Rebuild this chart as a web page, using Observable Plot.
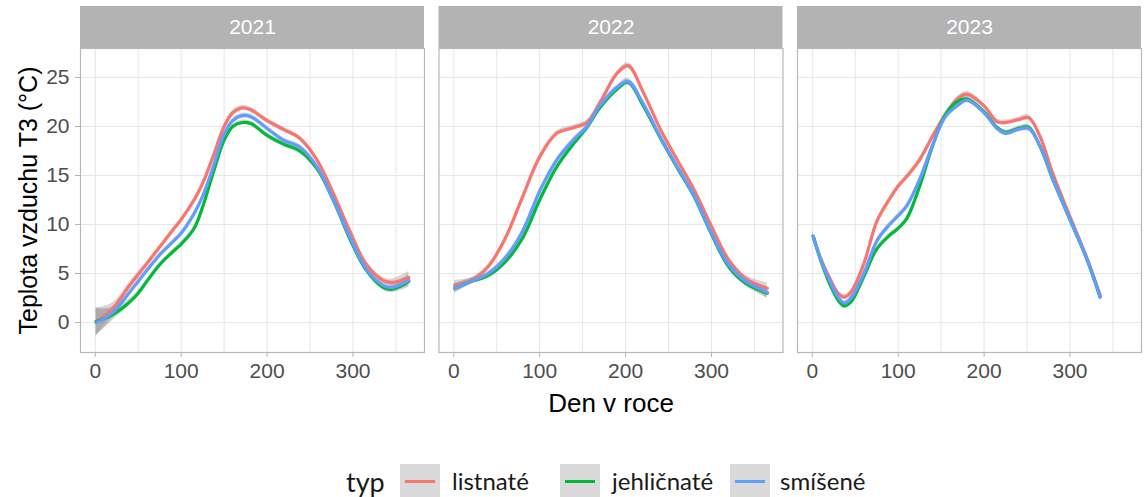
<!DOCTYPE html>
<html>
<head>
<meta charset="utf-8">
<script src="https://cdn.jsdelivr.net/npm/d3@7"></script>
<script src="https://cdn.jsdelivr.net/npm/@observablehq/plot@0.6"></script>
<style>
  html, body { margin: 0; padding: 0; background: #fff; }
  body { width: 1144px; height: 497px; overflow: hidden; font-family: "Liberation Sans", Arial, sans-serif; }
  #legend { position: relative; width: 1144px; height: 77px; font-family: Lato, "Open Sans", sans-serif; font-size: 24px; color: #1a1a1a; }
  #legend .lab { position: absolute; top: 61px; transform: translateY(-50%); white-space: nowrap; line-height: 1; }
  #legend .key { position: absolute; top: 44px; width: 40px; height: 34px; background: #d9d9d9; }
  #legend .key i { position: absolute; left: 5px; right: 5px; top: 15.5px; height: 3px; }
</style>
</head>
<body>
<div id="chart"></div>
<div id="legend"></div>
<script>
// ---- data ----
const years = ["2021", "2022", "2023"];
const types = ["listnaté", "jehličnaté", "smíšené"];
const colors = ["#F8766D", "#00BA38", "#619CFF"];
const xTicks = [0, 100, 200, 300];
const xGrid = [0, 50, 100, 150, 200, 250, 300, 350];
const yTicks = [0, 5, 10, 15, 20, 25];
const xLabel = "Den v roce";
const yLabel = "Teplota vzduchu T3 (°C)";
const legendTitle = "typ";

// 2021
const days2021 = [1, 20, 40, 50, 60, 75, 90, 100, 115, 125, 137, 150, 160, 171, 181, 200, 219, 238, 258, 277, 296, 315, 335, 346, 365];
const listnate2021 = [0.1, 1.4, 3.8, 4.9, 6.0, 7.7, 9.4, 10.5, 12.5, 14.2, 16.9, 20.0, 21.4, 21.9, 21.7, 20.6, 19.7, 18.8, 16.6, 13.2, 9.4, 6.0, 4.3, 4.1, 4.6];
const jehlicnate2021 = [0.1, 0.8, 2.1, 3.0, 4.2, 5.9, 7.2, 8.0, 9.6, 11.8, 15.2, 18.6, 20.0, 20.4, 20.3, 19.1, 18.2, 17.5, 15.7, 12.5, 8.6, 5.4, 3.6, 3.4, 4.2];
const smisene2021 = [0.0, 1.0, 3.1, 4.2, 5.3, 6.9, 8.2, 9.1, 11.1, 12.9, 15.8, 19.2, 20.6, 21.1, 21.0, 19.8, 18.6, 17.9, 15.9, 12.5, 8.8, 5.5, 3.8, 3.6, 4.3];
const se2021 = [1.4, 0.6, 0.35, 0.3, 0.25, 0.25, 0.25, 0.25, 0.25, 0.25, 0.25, 0.25, 0.25, 0.25, 0.25, 0.25, 0.25, 0.25, 0.25, 0.25, 0.25, 0.25, 0.3, 0.35, 0.6];

// 2022
const days2022 = [1, 20, 40, 60, 80, 100, 120, 140, 155, 170, 190, 203, 220, 240, 260, 280, 300, 320, 340, 365];
const listnate2022 = [3.8, 4.3, 5.7, 8.6, 12.8, 16.9, 19.3, 19.9, 20.4, 22.4, 25.4, 26.2, 23.6, 19.8, 16.6, 13.5, 9.8, 6.4, 4.5, 3.5];
const jehlicnate2022 = [3.5, 4.2, 4.8, 6.2, 8.6, 12.5, 15.9, 18.3, 19.9, 21.9, 23.8, 24.5, 22.2, 18.9, 15.8, 12.8, 9.0, 5.7, 4.0, 3.0];
const smisene2022 = [3.5, 4.2, 5.0, 6.6, 9.3, 13.4, 16.6, 18.7, 20.0, 22.1, 24.0, 24.6, 22.4, 19.0, 15.9, 12.9, 9.1, 5.9, 4.2, 3.1];
const se2022 = [0.5, 0.3, 0.25, 0.25, 0.25, 0.25, 0.25, 0.25, 0.25, 0.25, 0.25, 0.3, 0.25, 0.25, 0.25, 0.25, 0.25, 0.25, 0.3, 0.55];

// 2023
const days2023 = [1, 10, 20, 30, 37, 45, 60, 75, 90, 100, 110, 125, 140, 155, 170, 180, 200, 215, 225, 240, 252, 265, 280, 300, 320, 335];
const listnate2023 = [8.8, 6.5, 4.6, 3.0, 2.6, 3.1, 6.0, 10.3, 12.6, 13.9, 14.9, 16.6, 19.0, 21.2, 22.9, 23.3, 22.1, 20.5, 20.4, 20.7, 20.9, 19.0, 15.2, 10.8, 6.5, 2.8];
const jehlicnate2023 = [8.8, 6.3, 4.0, 2.3, 1.7, 2.1, 4.7, 7.5, 8.9, 9.6, 10.6, 13.9, 18.0, 21.2, 22.6, 22.8, 21.5, 19.9, 19.4, 19.8, 19.9, 18.0, 14.6, 10.5, 6.4, 2.6];
const smisene2023 = [8.8, 6.4, 4.3, 2.6, 2.0, 2.5, 5.0, 8.3, 10.0, 10.9, 11.9, 14.6, 18.1, 21.0, 22.2, 22.7, 21.4, 19.8, 19.3, 19.7, 19.8, 18.0, 14.6, 10.5, 6.4, 2.6];
const se2023 = [0.35, 0.25, 0.25, 0.25, 0.25, 0.25, 0.25, 0.25, 0.25, 0.25, 0.25, 0.25, 0.25, 0.25, 0.25, 0.3, 0.25, 0.25, 0.25, 0.25, 0.3, 0.25, 0.25, 0.25, 0.25, 0.35];

// ---- table for Plot ----
const rows = [];
function addYear(year, days, series, se) {
  series.forEach((vals, i) => {
    days.forEach((d, j) => {
      rows.push({year, typ: types[i], day: d, t: vals[j], lo: vals[j] - se[j], hi: vals[j] + se[j]});
    });
  });
}
addYear("2021", days2021, [listnate2021, jehlicnate2021, smisene2021], se2021);
addYear("2022", days2022, [listnate2022, jehlicnate2022, smisene2022], se2022);
addYear("2023", days2023, [listnate2023, jehlicnate2023, smisene2023], se2023);

const curve = "catmull-rom";

const plot = Plot.plot({
  width: 1144,
  height: 420,
  marginLeft: 80,
  marginRight: 3,
  marginTop: 48,
  marginBottom: 68,
  style: {fontFamily: "'Liberation Sans', Arial, sans-serif", background: "white", overflow: "visible"},
  x: {domain: [-17.2, 383.2]},
  y: {domain: [-3.05, 27.95]},
  fx: {domain: years, paddingInner: 0.0405, paddingOuter: 0, round: false, axis: null, label: null},
  color: {domain: types, range: colors},
  marks: [
    Plot.gridX(xGrid, {stroke: "#e6e6e6", strokeOpacity: 1, strokeWidth: 1}),
    Plot.gridY(yTicks, {stroke: "#e6e6e6", strokeOpacity: 1, strokeWidth: 1}),
    Plot.areaY(rows, {fx: "year", x: "day", y1: "lo", y2: "hi", z: "typ", fill: "#8c8c8c", fillOpacity: 0.35, curve}),
    Plot.line(rows, {fx: "year", x: "day", y: "t", z: "typ", stroke: "typ", strokeWidth: 3.2, curve}),
    Plot.frame({stroke: "#b8b8b8", strokeWidth: 1.2}),
    Plot.axisX(xTicks, {tickSize: 5, tickPadding: 6, fontSize: 21, fill: "#4d4d4d", stroke: "#b3b3b3", label: null}),
    Plot.axisY(yTicks, {tickSize: 5, tickPadding: 6, fontSize: 21, fill: "#4d4d4d", stroke: "#b3b3b3", label: null}),
    Plot.text(years, {fx: d => d, text: d => d, frameAnchor: "top", lineAnchor: "middle", dy: -21, fill: "white", fontSize: 21}),
    Plot.text([xLabel], {facet: "super", frameAnchor: "bottom", lineAnchor: "middle", textAnchor: "middle", dy: 51, fontSize: 26, fill: "black"}),
    Plot.text([yLabel], {facet: "super", frameAnchor: "left", lineAnchor: "middle", textAnchor: "middle", dx: -52, rotate: -90, fontSize: 25, fill: "black"})
  ]
});

// strip backgrounds placed with the fx facet scale
const fx = plot.scale("fx");
const svg = d3.select(plot);
years.forEach(y => {
  svg.insert("rect", ":first-child")
    .attr("x", fx.apply(y)).attr("y", 6)
    .attr("width", fx.bandwidth).attr("height", 42)
    .attr("fill", "#b3b3b3");
});
// keep the white background behind the strips
svg.insert("rect", ":first-child").attr("width", 1144).attr("height", 420).attr("fill", "white");

document.getElementById("chart").appendChild(plot);

// ---- legend ----
const legend = document.getElementById("legend");
const keyLeft = [400, 560, 730];
const labLeft = [452, 612, 780];
const t = document.createElement("div");
t.className = "lab"; t.style.left = "346px"; t.style.fontSize = "27px"; t.textContent = legendTitle;
legend.appendChild(t);
types.forEach((ty, i) => {
  const k = document.createElement("div");
  k.className = "key"; k.style.left = keyLeft[i] + "px";
  const line = document.createElement("i");
  line.style.background = colors[i];
  k.appendChild(line);
  legend.appendChild(k);
  const l = document.createElement("div");
  l.className = "lab"; l.style.left = labLeft[i] + "px"; l.textContent = ty;
  legend.appendChild(l);
});
</script>
</body>
</html>
